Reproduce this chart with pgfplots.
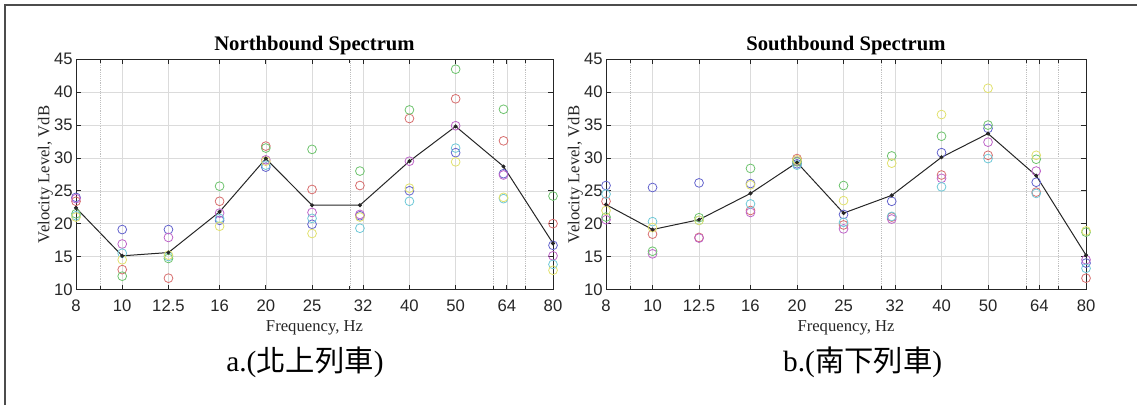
\documentclass[border=0pt]{standalone}
\usepackage{fontspec}
\setmainfont{Liberation Serif}
\setsansfont{Liberation Sans}
\newfontfamily\cjk{Noto Sans CJK TC}
\usepackage{pgfplots}
\usepackage{pgfplotstable}
\pgfplotsset{compat=1.18}

\definecolor{cB}{RGB}{100,100,205}
\definecolor{cR}{RGB}{215,110,110}
\definecolor{cM}{RGB}{190,100,200}
\definecolor{cC}{RGB}{110,200,215}
\definecolor{cG}{RGB}{110,195,110}
\definecolor{cY}{RGB}{225,225,110}
\definecolor{axgray}{RGB}{38,38,38}

\pgfplotstableread{
f    B    R    M    C    G    Y    mean
8    24.0 23.4 23.8 21.2 21.5 21.0 22.4
10   19.1 13.0 16.9 15.5 12.0 14.5 15.1
12.5 19.1 11.7 17.9 15.0 14.7 15.2 15.6
16   20.5 23.4 21.6 20.8 25.7 19.6 21.8
20   28.6 31.8 29.7 28.9 31.5 29.5 29.9
25   19.9 25.2 21.7 20.8 31.3 18.5 22.8
31.5 21.2 25.8 21.4 19.3 28.0 21.0 22.8
40   25.0 36.0 29.5 23.4 37.3 25.4 29.5
50   30.8 39.0 34.9 31.5 43.5 29.4 34.8
63   27.6 32.6 27.4 23.8 37.4 24.0 28.7
80   16.7 20.0 15.1 13.8 24.2 12.9 17.0
}\north

\pgfplotstableread{
f    B    R    M    C    G    Y    mean
8    25.8 23.4 20.6 24.5 21.0 22.0 22.9
10   25.5 18.4 15.4 20.3 15.8 19.4 19.1
12.5 26.2 17.9 17.8 20.5 20.9 20.5 20.6
16   26.1 22.0 21.7 23.0 28.4 25.9 24.6
20   29.1 29.9 29.5 28.9 29.4 29.7 29.3
25   21.4 19.8 19.2 20.2 25.8 23.5 21.6
31.5 23.4 21.0 20.7 21.1 30.3 29.2 24.3
40   30.8 27.4 26.9 25.6 33.3 36.6 30.1
50   34.5 30.4 32.4 29.9 35.0 40.6 33.7
63   26.3 24.8 28.0 24.6 29.8 30.4 27.3
80   14.0 11.7 14.5 13.2 18.7 18.9 15.2
}\south

\pgfplotsset{
  mypanel/.style={
    xmin=8, xmax=80, ymin=10, ymax=45,
    scale only axis,
    height=172.5pt,
    xtick={8,10,12.5,16,20,25,32,40,50,64,80},
    xticklabels={8,10,12.5,16,20,25,32,40,50,64,80},
    minor xtick={9,30,60,70},
    ytick={10,15,...,45},
    grid=both,
    major grid style={black!14, line width=0.4pt},
    minor grid style={black!25, densely dotted, line width=0.4pt},
    tick align=inside, tick pos=both,
    major tick length=3.5pt, minor tick length=2.5pt,
    axis line style={axgray, line width=0.6pt},
    tick style={axgray, line width=0.5pt},
    ticklabel style={font=\sffamily\fontsize{12.5}{13}\selectfont, text=axgray},
    /pgf/number format/assume math mode=true,
    xticklabel style={yshift=-4pt},
    yticklabel style={xshift=1pt},
    xlabel={Frequency, Hz},
    ylabel={Velocity Level, VdB},
    label style={font=\fontsize{12.5}{13}\selectfont, text=axgray},
    xlabel style={yshift=0pt},
    ylabel style={yshift=-6pt},
    title style={font=\bfseries\fontsize{15.5}{16}\selectfont, yshift=-6pt},
    clip=false,
  },
  circ/.style={only marks, mark=o, mark size=3.3pt, mark options={line width=0.6pt}},
  meanl/.style={black!85, line width=0.75pt, mark=*, mark size=1.1pt, mark options={fill=black!85}},
}

\begin{document}
\begin{tikzpicture}
\path[use as bounding box] (0,0) rectangle (852.75pt,-303.75pt);
\draw[black!70, line width=1.1pt] (3.75pt,-303.75pt) -- (3.75pt,-3.75pt) -- (852.75pt,-3.75pt);

\begin{semilogxaxis}[mypanel, width=357.75pt, at={(57pt,-217pt)}, anchor=south west,
  title={Northbound Spectrum}]
  \addplot[circ, cB] table[x=f, y=B] {\north};
  \addplot[circ, cR] table[x=f, y=R] {\north};
  \addplot[circ, cM] table[x=f, y=M] {\north};
  \addplot[circ, cC] table[x=f, y=C] {\north};
  \addplot[circ, cG] table[x=f, y=G] {\north};
  \addplot[circ, cY] table[x=f, y=Y] {\north};
  \addplot[meanl] table[x=f, y=mean] {\north};
\end{semilogxaxis}

\begin{semilogxaxis}[mypanel, width=360pt, at={(454.5pt,-217pt)}, anchor=south west,
  title={Southbound Spectrum}]
  \addplot[circ, cB] table[x=f, y=B] {\south};
  \addplot[circ, cR] table[x=f, y=R] {\south};
  \addplot[circ, cM] table[x=f, y=M] {\south};
  \addplot[circ, cC] table[x=f, y=C] {\south};
  \addplot[circ, cG] table[x=f, y=G] {\south};
  \addplot[circ, cY] table[x=f, y=Y] {\south};
  \addplot[meanl] table[x=f, y=mean] {\south};
\end{semilogxaxis}

\node[font=\fontsize{22}{22}\selectfont, anchor=base] at (228.75pt,-278.5pt) {a.({\cjk 北上列車})};
\node[font=\fontsize{22}{22}\selectfont, anchor=base] at (647pt,-278.5pt) {b.({\cjk 南下列車})};
\end{tikzpicture}
\end{document}
